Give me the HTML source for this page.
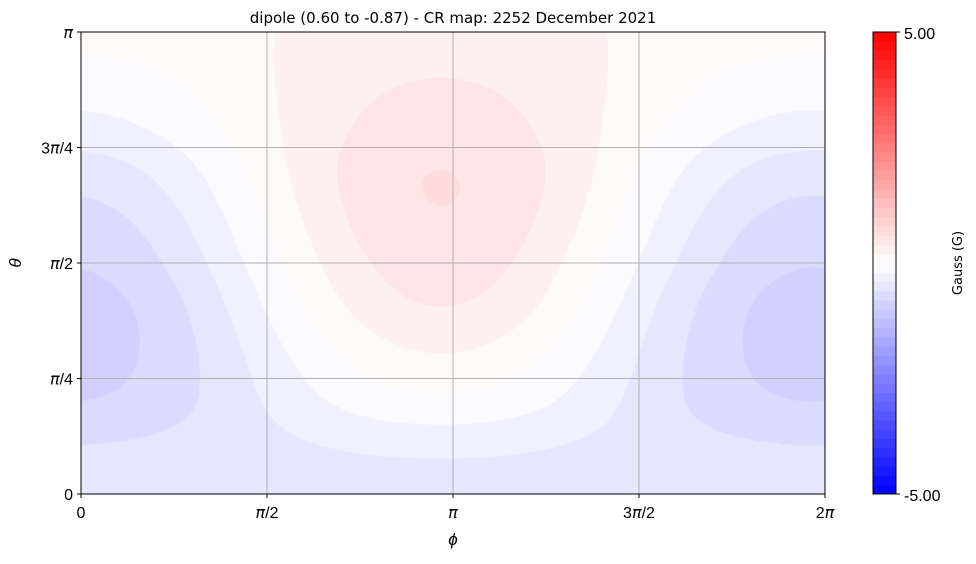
<!DOCTYPE html>
<html><head><meta charset="utf-8"><style>
body{margin:0;background:#fff;width:976px;height:559px;overflow:hidden;font-family:"Liberation Sans","DejaVu Sans",sans-serif}
svg text{font-family:"Liberation Sans","DejaVu Sans",sans-serif}
</style></head><body>
<svg id="chart" width="976" height="559" xmlns="http://www.w3.org/2000/svg">
<foreignObject x="81" y="32" width="744" height="462"><canvas id="cv" width="744" height="462" xmlns="http://www.w3.org/1999/xhtml" style="display:block"></canvas></foreignObject>
<g id="grid"></g>
<rect x="81" y="32" width="744" height="462" fill="none" stroke="#000" stroke-width="1"/>
<g id="ticks"></g>
<text x="453" y="23" font-size="15" text-anchor="middle" style="font-family:'DejaVu Sans',sans-serif">dipole (0.60 to -0.87) - CR map: 2252 December 2021</text>
<text x="453" y="545" font-size="17" font-style="italic" text-anchor="middle">ϕ</text>
<text x="21" y="263" font-size="17" font-style="italic" text-anchor="middle" transform="rotate(-90 21 263)">θ</text>
<g id="cbar"></g>
<rect x="873" y="32" width="23" height="462" fill="none" stroke="#000" stroke-width="1"/>
<text x="904" y="39" font-size="16">5.00</text>
<text x="904" y="501" font-size="16">-5.00</text>
<text x="962" y="263" font-size="13" text-anchor="middle" transform="rotate(-90 962 263)" style="font-family:'DejaVu Sans',sans-serif">Gauss (G)</text>
</svg>
<script>
// field samples: theta (fraction of pi, from bottom, uniform 0..1), mean G and cos(phi) amplitude H (Gauss)
const thetaSamples=[0,0.1,0.2,0.3,0.4,0.5,0.6,0.7,0.8,0.9,1.0];
const meanVals=[-0.50,-0.47,-0.42,-0.35,-0.25,-0.14,-0.04,0.05,0.12,0.16,0.18];
const ampVals=[0,-0.12,-0.38,-0.54,-0.64,-0.65,-0.63,-0.55,-0.38,-0.24,-0.12];
const phiShift=-0.1;
const levelStep=0.2, vmin=-5, vmax=5;
const xTickLabels=['0','π/2','π','3π/2','2π'];
const yTickLabels=['0','π/4','π/2','3π/4','π'];
const X0=81,X1=825,Y0=32,Y1=494;
const xs=p=>X0+(p/(2*Math.PI))*(X1-X0);
const ys=t=>Y1-(t/Math.PI)*(Y1-Y0);
function bwr(v){v=Math.max(0,Math.min(1,v));return v<0.5?[2*v*255,2*v*255,255]:[255,2*(1-v)*255,2*(1-v)*255];}
function cr(arr,t){
  const n=arr.length;let i=0;while(i<n-2&&t>thetaSamples[i+1])i++;
  const a=thetaSamples[i],b=thetaSamples[i+1];const u=Math.max(0,Math.min(1,(t-a)/(b-a)));
  const p0=arr[Math.max(0,i-1)],p1=arr[i],p2=arr[i+1],p3=arr[Math.min(n-1,i+2)];
  return 0.5*((2*p1)+(-p0+p2)*u+(2*p0-5*p1+4*p2-p3)*u*u+(-p0+3*p1-3*p2+p3)*u*u*u);}
const cv=document.getElementById('cv'),ctx=cv.getContext('2d');
const W=cv.width,H=cv.height,img=ctx.createImageData(W,H);
for(let py=0;py<H;py++){const t=1-(py+0.5)/H;const g=cr(meanVals,t),h=cr(ampVals,t);
  for(let px=0;px<W;px++){const phi=(px+0.5)/W*2*Math.PI;const val=g+h*Math.cos(phi-phiShift);
    const k=Math.floor(val/levelStep);const mid=(k+0.5)*levelStep;const c=bwr((mid-vmin)/(vmax-vmin));
    const o=(py*W+px)*4;img.data[o]=c[0];img.data[o+1]=c[1];img.data[o+2]=c[2];img.data[o+3]=255;}}
ctx.putImageData(img,0,0);
const NS='http://www.w3.org/2000/svg';
const grid=document.getElementById('grid'),ticks=document.getElementById('ticks');
function mk(tag,attrs,parent){const e=document.createElementNS(NS,tag);for(const k in attrs)e.setAttribute(k,attrs[k]);parent.appendChild(e);return e;}
function setLabel(t,lab){lab.split(/(π)/).forEach(part=>{if(!part)return;const s=document.createElementNS(NS,'tspan');
  if(part==='π'){s.setAttribute('font-style','italic');s.setAttribute('style',"font-family:'DejaVu Sans',sans-serif");}
  s.textContent=part;t.appendChild(s);});}
xTickLabels.forEach((lab,i)=>{const x=xs(i*Math.PI/2);
  const l=mk('line',{x1:x,x2:x,y1:Y0,y2:Y1,stroke:'#b0b0b0','stroke-width':1},grid);
  
  
  const tk=mk('line',{x1:x,x2:x,y1:Y1,y2:Y1+4,stroke:'#000'},ticks);
  
  
  const t=mk('text',{x:x,y:Y1+24,'font-size':16,'text-anchor':'middle'},ticks);setLabel(t,lab);
  
  });
yTickLabels.forEach((lab,i)=>{const y=ys(i*Math.PI/4);
  const l=mk('line',{x1:X0,x2:X1,y1:y,y2:y,stroke:'#b0b0b0','stroke-width':1},grid);
  
  
  const tk=mk('line',{x1:X0-4,x2:X0,y1:y,y2:y,stroke:'#000'},ticks);
  
  
  const t=mk('text',{x:X0-8,y:y+6,'font-size':16,'text-anchor':'end'},ticks);setLabel(t,lab);
  
  });
const cb=document.getElementById('cbar');const n=Math.round((vmax-vmin)/levelStep);const bh=462/n;
for(let k=0;k<n;k++){const mid=vmin+(k+0.5)*levelStep;const c=bwr((mid-vmin)/(vmax-vmin));
  const r=mk('rect',{x:873,y:494-(k+1)*bh,width:23,height:bh+0.5,fill:`rgb(${c.map(Math.round).join(',')})`},cb);
  
  }
[32,494].forEach(y=>{const tk=mk('line',{x1:896,x2:900,y1:y,y2:y,stroke:'#000'},cb);
  
  });
</script>
</body></html>
